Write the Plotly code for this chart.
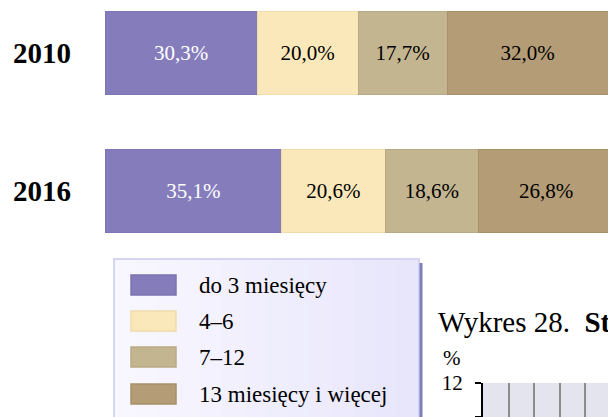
import plotly.graph_objects as go

# ---------------- data ----------------
years = ["2010", "2016"]
series_names = ["do 3 miesięcy", "4–6", "7–12", "13 miesięcy i więcej"]
share_up_to_3 = [30.3, 35.1]
share_4_6 = [20.0, 20.6]
share_7_12 = [17.7, 18.6]
share_13_plus = [32.0, 26.8]
series_values = [share_up_to_3, share_4_6, share_7_12, share_13_plus]

# fragment of the next chart (only its top is visible)
next_title = "Wykres 28.&nbsp; <b>St</b>"
next_y_ticks = [11, 12]
next_unit = "%"

# ---------------- style ----------------
W, H = 608, 417
colors = ["#857dbb", "#fae8bb", "#c4b591", "#b39c76"]
edge_colors = ["#7c74b3", "#efdcab", "#b9a984", "#a89069"]
text_colors = ["white", "black", "black", "black"]
SERIF = "Liberation Serif"


def fx(p):
    return p / W


def fy(p):
    return 1 - p / H


fig = go.Figure()

for name, vals, col, ecol, tcol in zip(series_names, series_values, colors, edge_colors, text_colors):
    fig.add_trace(go.Bar(
        y=years, x=vals, name=name, orientation="h",
        marker=dict(color=col, line=dict(color=ecol, width=1)),
        width=0.6,
        texttemplate="%{x:.1f}%", textposition="inside",
        insidetextanchor="middle", textangle=0,
        textfont=dict(family=SERIF, size=21, color=tcol),
        constraintext="none",
        showlegend=False, hoverinfo="skip",
    ))

# main axes
fig.update_layout(
    xaxis=dict(domain=[fx(105), 1.0], range=[0, 100], visible=False, fixedrange=True),
    yaxis=dict(domain=[0, 1], type="category", range=[1 + (H - 191) / 138, -53 / 138],
               showgrid=False, zeroline=False, showline=False, ticks="",
               ticklabelstandoff=33, automargin=False,
               tickfont=dict(family=SERIF, size=29, color="black", weight="bold")),
)

# fragment of next chart axes
fig.add_trace(go.Scatter(x=[], y=[], xaxis="x2", yaxis="y2", showlegend=False))
fig.update_layout(
    xaxis2=dict(domain=[fx(483), 1.0], range=[0, 4.9], anchor="y2", dtick=1,
                showgrid=True, gridcolor="#8c8c8c", gridwidth=2, showticklabels=False,
                zeroline=False, showline=False, ticks="", fixedrange=True),
    yaxis2=dict(domain=[0, 34 / H], range=[next_y_ticks[0], next_y_ticks[-1]], anchor="x2",
                tickvals=next_y_ticks, ticktext=[str(v) for v in next_y_ticks],
                showgrid=True, gridcolor="#8c8c8c", gridwidth=2,
                showline=True, linecolor="black", linewidth=2,
                ticks="outside", ticklen=6, tickwidth=2, tickcolor="black",
                ticklabelstandoff=8, automargin=False, zeroline=False,
                tickfont=dict(family=SERIF, size=21, color="black"), fixedrange=True),
)

shapes = []
# fragment background
shapes.append(dict(type="rect", xref="x2 domain", yref="y2 domain", x0=0, x1=1, y0=0, y1=1,
                   fillcolor="#e4e4ee", line=dict(width=0), layer="below"))

# legend box (gradient approximated by strips)
lx0, lx1, ly0 = 114, 419, 259
n_strips = 14
c0 = (248, 247, 255)
c1 = (232, 230, 251)
for i in range(n_strips):
    t = i / (n_strips - 1)
    c = tuple(round(a + (b - a) * t) for a, b in zip(c0, c1))
    sx0 = lx0 + (lx1 - lx0) * i / n_strips
    sx1 = lx0 + (lx1 - lx0) * (i + 1) / n_strips
    shapes.append(dict(type="rect", xref="paper", yref="paper",
                       x0=fx(sx0), x1=fx(sx1) + 0.001, y0=fy(H + 5), y1=fy(ly0),
                       fillcolor="rgb(%d,%d,%d)" % c, line=dict(width=0), layer="above"))
shapes.append(dict(type="rect", xref="paper", yref="paper",
                   x0=fx(lx0), x1=fx(lx1), y0=fy(H + 5), y1=fy(ly0),
                   fillcolor="rgba(0,0,0,0)", line=dict(color="#d6d4f4", width=2), layer="above"))
# shadow at right
shapes.append(dict(type="rect", xref="paper", yref="paper",
                   x0=fx(lx1 + 0.5), x1=fx(lx1 + 3.5), y0=fy(H + 5), y1=fy(ly0 + 4),
                   fillcolor="#7f7fb9", line=dict(width=0), layer="above"))

annotations = []
item_y = [285, 321, 357, 394]
for name, col, ecol, yy in zip(series_names, colors, edge_colors, item_y):
    shapes.append(dict(type="rect", xref="paper", yref="paper",
                       x0=fx(131), x1=fx(176), y0=fy(yy + 10), y1=fy(yy - 10),
                       fillcolor=col, line=dict(color=ecol, width=1.5), layer="above"))
    annotations.append(dict(text=name, xref="paper", yref="paper", x=fx(197), y=fy(yy),
                            xanchor="left", yanchor="middle", showarrow=False,
                            font=dict(family=SERIF, size=23, color="black")))

annotations.append(dict(text=next_title, xref="paper", yref="paper", x=fx(436), y=fy(322),
                        xanchor="left", yanchor="middle", showarrow=False,
                        font=dict(family=SERIF, size=29, color="black")))
annotations.append(dict(text=next_unit, xref="paper", yref="paper", x=fx(452), y=fy(358),
                        xanchor="center", yanchor="middle", showarrow=False,
                        font=dict(family=SERIF, size=21, color="black")))

fig.update_layout(
    width=W, height=H,
    margin=dict(l=0, r=0, t=0, b=0, pad=0),
    barmode="stack",
    bargap=0.4,
    separators=", ",
    paper_bgcolor="white",
    plot_bgcolor="rgba(0,0,0,0)",
    showlegend=False,
    shapes=shapes,
    annotations=annotations,
    font=dict(family=SERIF),
)

fig.write_html(
    "out.html",
    config={"displayModeBar": False},
    post_script="document.body.style.margin='0';document.body.style.overflow='hidden';",
)
